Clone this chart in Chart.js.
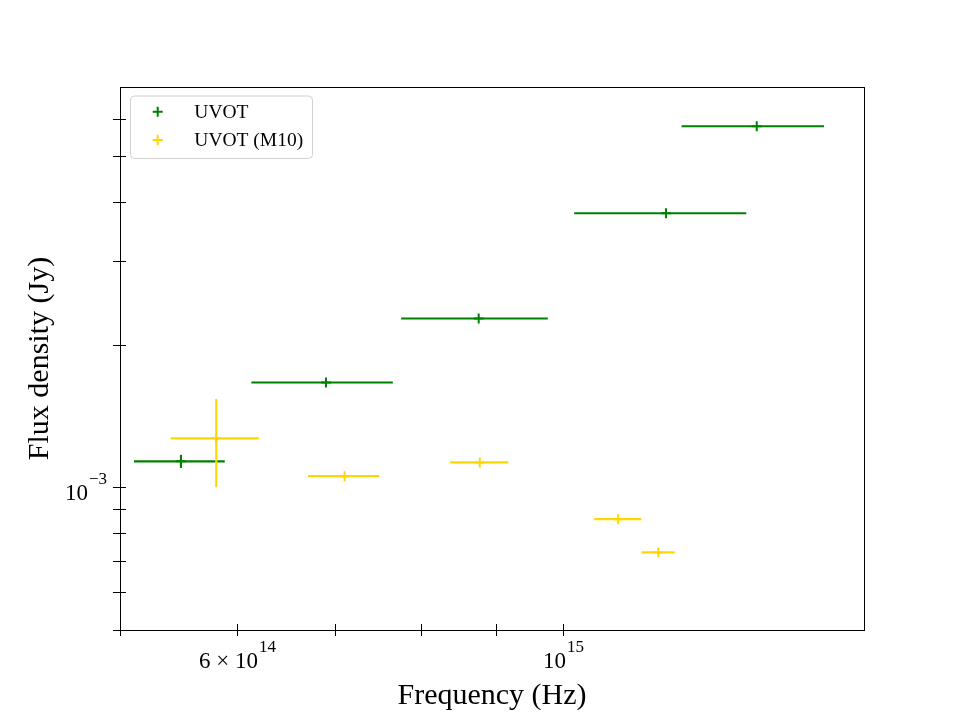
<!DOCTYPE html>
<html><head><meta charset="utf-8">
<script src="https://cdn.jsdelivr.net/npm/chart.js@4"></script>
<style>html,body{margin:0;padding:0;background:#fff;} canvas{display:block;}</style>
</head><body>
<canvas id="c" width="960" height="720"></canvas>
<script>
// ---- data (Hz, Jy) ----
const uvotFreq     = [5.50e14, 6.90e14, 8.76e14, 1.174e15, 1.353e15];
const uvotFreqErr  = [0.39e14, 0.76e14, 1.00e14, 0.157e15, 0.150e15];
const uvotFlux     = [1.135e-3, 1.665e-3, 2.273e-3, 3.791e-3, 5.784e-3];
const uvotFluxErr  = [0.036e-3, 0, 0, 0, 0];

const m10Freq      = [5.812e14, 7.103e14, 8.775e14, 1.0895e15, 1.160e15];
const m10FreqErr   = [0.40e14, 0.395e14, 0.40e14, 0.040e15, 0.030e15];
const m10Flux      = [1.269e-3, 1.056e-3, 1.129e-3, 0.857e-3, 0.729e-3];
const m10FluxErr   = [0.268e-3, 0, 0, 0, 0];

const seriesLabels = ['UVOT', 'UVOT (M10)'];

// ---- axis ticks ----
const xTickValues = [5e14, 6e14, 7e14, 8e14, 9e14, 1e15];
const xTickLabels = ['', '6 \u00d7 10^14', '', '', '', '10^15'];
const yTickValues = [5e-4, 6e-4, 7e-4, 8e-4, 9e-4, 1e-3, 2e-3, 3e-3, 4e-3, 5e-3, 6e-3];
const yTickLabels = ['', '', '', '', '', '10^\u22123', '', '', '', '', ''];
const xTitle = 'Frequency (Hz)';
const yTitle = 'Flux density (Jy)';

const FONT = '"Liberation Serif", "Times New Roman", serif';

function pts(fx, fxe, fy, fye) {
  return fx.map((v, i) => ({ x: v, y: fy[i], xErr: fxe[i], yErr: fye[i] }));
}

function drawPow(ctx, text, anchorX, baseY, align) {
  const parts = text.split('^');
  const base = parts[0], exp = parts[1] || '';
  ctx.font = '23px ' + FONT;
  const wb = ctx.measureText(base).width;
  ctx.font = '17px ' + FONT;
  const we = exp ? ctx.measureText(exp).width + 1 : 0;
  const total = wb + we;
  let sx = align === 'right' ? anchorX - total : anchorX - total / 2;
  ctx.textAlign = 'left';
  ctx.textBaseline = 'alphabetic';
  ctx.font = '23px ' + FONT;
  ctx.fillText(base, sx, baseY);
  if (exp) {
    ctx.font = '17px ' + FONT;
    ctx.fillText(exp, sx + wb + 1, baseY - 16);
  }
}

const errorBars = {
  id: 'errorBars',
  beforeDatasetsDraw(chart) {
    const { ctx, chartArea: a, scales: { x, y } } = chart;
    ctx.save();
    ctx.beginPath();
    ctx.rect(a.left, a.top, a.right - a.left, a.bottom - a.top);
    ctx.clip();
    chart.data.datasets.forEach(ds => {
      ctx.strokeStyle = ds.borderColor;
      ctx.lineWidth = 2.1;
      ds.data.forEach(p => {
        const px = x.getPixelForValue(p.x), py = y.getPixelForValue(p.y);
        if (p.xErr) {
          ctx.beginPath();
          ctx.moveTo(x.getPixelForValue(p.x - p.xErr), py);
          ctx.lineTo(x.getPixelForValue(p.x + p.xErr), py);
          ctx.stroke();
        }
        if (p.yErr) {
          ctx.beginPath();
          ctx.moveTo(px, y.getPixelForValue(p.y - p.yErr));
          ctx.lineTo(px, y.getPixelForValue(p.y + p.yErr));
          ctx.stroke();
        }
      });
    });
    ctx.restore();
  }
};

const axesDecor = {
  id: 'axesDecor',
  afterDraw(chart) {
    const { ctx, chartArea: a, scales: { x, y } } = chart;
    ctx.save();
    ctx.fillStyle = '#000';
    ctx.strokeStyle = '#000';
    ctx.lineWidth = 1;
    // spines
    ctx.strokeRect(Math.round(a.left) + 0.5, Math.round(a.top) + 0.5,
                   Math.round(a.right - a.left), Math.round(a.bottom - a.top));
    // x ticks
    xTickValues.forEach((v, i) => {
      const px = Math.round(x.getPixelForValue(v)) + 0.5;
      ctx.beginPath(); ctx.moveTo(px, a.bottom - 6); ctx.lineTo(px, a.bottom + 6); ctx.stroke();
      if (xTickLabels[i]) drawPow(ctx, xTickLabels[i], px, a.bottom + 38, 'center');
    });
    // y ticks
    yTickValues.forEach((v, i) => {
      const py = Math.round(y.getPixelForValue(v)) + 0.5;
      ctx.beginPath(); ctx.moveTo(a.left - 7, py); ctx.lineTo(a.left + 6, py); ctx.stroke();
      if (yTickLabels[i]) drawPow(ctx, yTickLabels[i], a.left - 13, py + 12.5, 'right');
    });
    // axis titles
    ctx.font = '30px ' + FONT;
    ctx.textAlign = 'center';
    ctx.textBaseline = 'alphabetic';
    ctx.fillText(xTitle, (a.left + a.right) / 2, 704);
    ctx.save();
    ctx.translate(48, (a.top + a.bottom) / 2);
    ctx.rotate(-Math.PI / 2);
    ctx.fillText(yTitle, 0, 0);
    ctx.restore();
    // legend
    const lx = 130.5, ly = 96, lw = 182, lh = 62.5, r = 4;
    ctx.beginPath();
    ctx.moveTo(lx + r, ly);
    ctx.arcTo(lx + lw, ly, lx + lw, ly + lh, r);
    ctx.arcTo(lx + lw, ly + lh, lx, ly + lh, r);
    ctx.arcTo(lx, ly + lh, lx, ly, r);
    ctx.arcTo(lx, ly, lx + lw, ly, r);
    ctx.closePath();
    ctx.fillStyle = 'rgba(255,255,255,0.8)';
    ctx.fill();
    ctx.strokeStyle = '#d0d0d0';
    ctx.stroke();
    chart.data.datasets.forEach((ds, i) => {
      const my = 111.7 + i * 28.3;
      ctx.strokeStyle = ds.borderColor;
      ctx.lineWidth = 2;
      ctx.beginPath();
      ctx.moveTo(152.7, my); ctx.lineTo(162.7, my);
      ctx.moveTo(157.7, my - 5); ctx.lineTo(157.7, my + 5);
      ctx.stroke();
      ctx.fillStyle = '#000';
      ctx.font = '19.5px ' + FONT;
      ctx.textAlign = 'left';
      ctx.textBaseline = 'alphabetic';
      ctx.fillText(ds.label, 194.3, my + 6.3);
    });
    ctx.restore();
  }
};

new Chart(document.getElementById('c'), {
  type: 'scatter',
  data: {
    datasets: [
      { label: seriesLabels[0], data: pts(uvotFreq, uvotFreqErr, uvotFlux, uvotFluxErr),
        borderColor: '#008000', backgroundColor: '#008000',
        pointStyle: 'cross', pointRadius: 5, pointBorderWidth: 2, pointHoverRadius: 5 },
      { label: seriesLabels[1], data: pts(m10Freq, m10FreqErr, m10Flux, m10FluxErr),
        borderColor: '#FFD700', backgroundColor: '#FFD700',
        pointStyle: 'cross', pointRadius: 5, pointBorderWidth: 2, pointHoverRadius: 5 }
    ]
  },
  options: {
    responsive: false,
    animation: false,
    devicePixelRatio: 1,
    layout: { padding: { left: 120, right: 96, top: 87, bottom: 90 } },
    plugins: { legend: { display: false }, tooltip: { enabled: false } },
    scales: {
      x: { type: 'logarithmic', display: false, min: 5e14, max: 1.6e15 },
      y: { type: 'logarithmic', display: false, min: 5e-4, max: 7e-3 }
    }
  },
  plugins: [errorBars, axesDecor]
});
</script>
</body></html>
